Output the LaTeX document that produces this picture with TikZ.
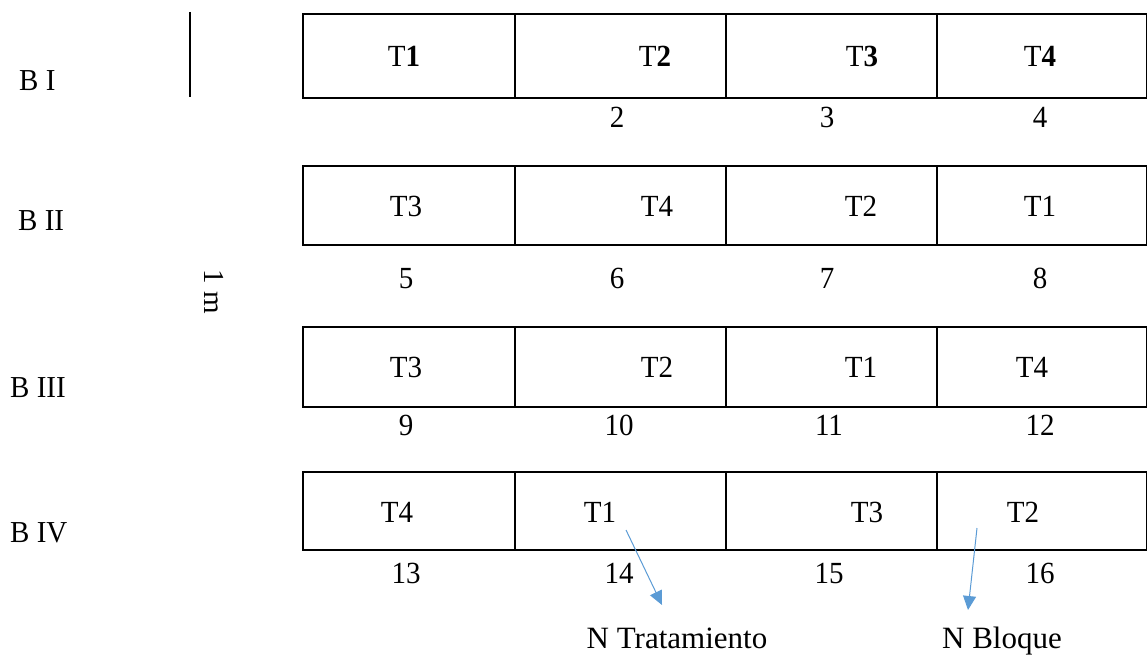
\documentclass[tikz,border=0pt]{standalone}
\usepackage{fontspec}
\setmainfont{Liberation Serif}
\usetikzlibrary{arrows.meta}
\definecolor{arrowblue}{HTML}{5B9BD5}
\tikzset{
  cell/.style={draw=black, line width=2pt, minimum height=80pt, inner sep=0pt, anchor=north west},
  lbl/.style={font=\fontsize{29}{34}\selectfont, inner sep=0pt, anchor=base, yscale=1.06},
  blk/.style={font=\fontsize{29}{34}\selectfont, inner sep=0pt, anchor=base west, yscale=1.05},
  note/.style={font=\fontsize{31}{36}\selectfont, inner sep=0pt, anchor=base},
  pointer/.style={draw=arrowblue, line width=1pt, -{Triangle[length=14pt,width=13pt]}}
}
\begin{document}
\begin{tikzpicture}[x=1pt,y=-1pt]
\useasboundingbox (0,0) rectangle (1147,658);
% row boxes
\foreach \r/\top/\h in {1/13/84, 2/165/79, 3/326/80, 4/471/78}{
  \node[cell, minimum width=212pt, minimum height=\h pt] (c\r a) at (302,\top) {};
  \node[cell, minimum width=211pt, minimum height=\h pt] (c\r b) at (514,\top) {};
  \node[cell, minimum width=211pt, minimum height=\h pt] (c\r c) at (725,\top) {};
  \node[cell, minimum width=210pt, minimum height=\h pt] (c\r d) at (936,\top) {};
}
% vertical scale line
\coordinate (vl1) at (190,12);
\coordinate (vl2) at (190,97);
\draw[line width=1.6pt] (vl1) -- (vl2);
\node[font=\fontsize{29}{34}\selectfont, rotate=-90, inner sep=0pt] (onem) at (214,292) {1 m};
% block labels
\node[blk] (b1) at (19,91) {B I};
\node[blk] (b2) at (18,230) {B II};
\node[blk] (b3) at (10,397) {B III};
\node[blk] (b4) at (10,542) {B IV};
% treatments
\node[lbl] (t1a) at (404,67) {T\textbf{1}};
\node[lbl] (t1b) at (655,67) {T\textbf{2}};
\node[lbl] (t1c) at (862,67) {T\textbf{3}};
\node[lbl] (t1d) at (1040,67) {T\textbf{4}};
\node[lbl] (t2a) at (406,216) {T3};
\node[lbl] (t2b) at (657,216) {T4};
\node[lbl] (t2c) at (861,216) {T2};
\node[lbl] (t2d) at (1040,216) {T1};
\node[lbl] (t3a) at (406,377) {T3};
\node[lbl] (t3b) at (657,377) {T2};
\node[lbl] (t3c) at (861,377) {T1};
\node[lbl] (t3d) at (1032,377) {T4};
\node[lbl] (t4a) at (397,522) {T4};
\node[lbl] (t4b) at (600,522) {T1};
\node[lbl] (t4c) at (867,522) {T3};
\node[lbl] (t4d) at (1023,522) {T2};
% plot numbers
\node[lbl] (n2) at (617,127) {2};
\node[lbl] (n3) at (827,127) {3};
\node[lbl] (n4) at (1040,127) {4};
\node[lbl] (n5) at (406,288) {5};
\node[lbl] (n6) at (617,288) {6};
\node[lbl] (n7) at (827,288) {7};
\node[lbl] (n8) at (1040,288) {8};
\node[lbl] (n9) at (406,435) {9};
\node[lbl] (n10) at (619,435) {10};
\node[lbl] (n11) at (829,435) {11};
\node[lbl] (n12) at (1040,435) {12};
\node[lbl] (n13) at (406,583) {13};
\node[lbl] (n14) at (619,583) {14};
\node[lbl] (n15) at (829,583) {15};
\node[lbl] (n16) at (1040,583) {16};
% notes
\node[note] (ntrat) at (677,648) {N Tratamiento};
\node[note] (nbloq) at (1002,648) {N Bloque};
\coordinate (a1s) at (626,530);
\coordinate (a1e) at (662,605);
\coordinate (a2s) at (977,528);
\coordinate (a2e) at (968,610);
\draw[pointer] (a1s) -- (a1e);
\draw[pointer] (a2s) -- (a2e);
\end{tikzpicture}
\end{document}
